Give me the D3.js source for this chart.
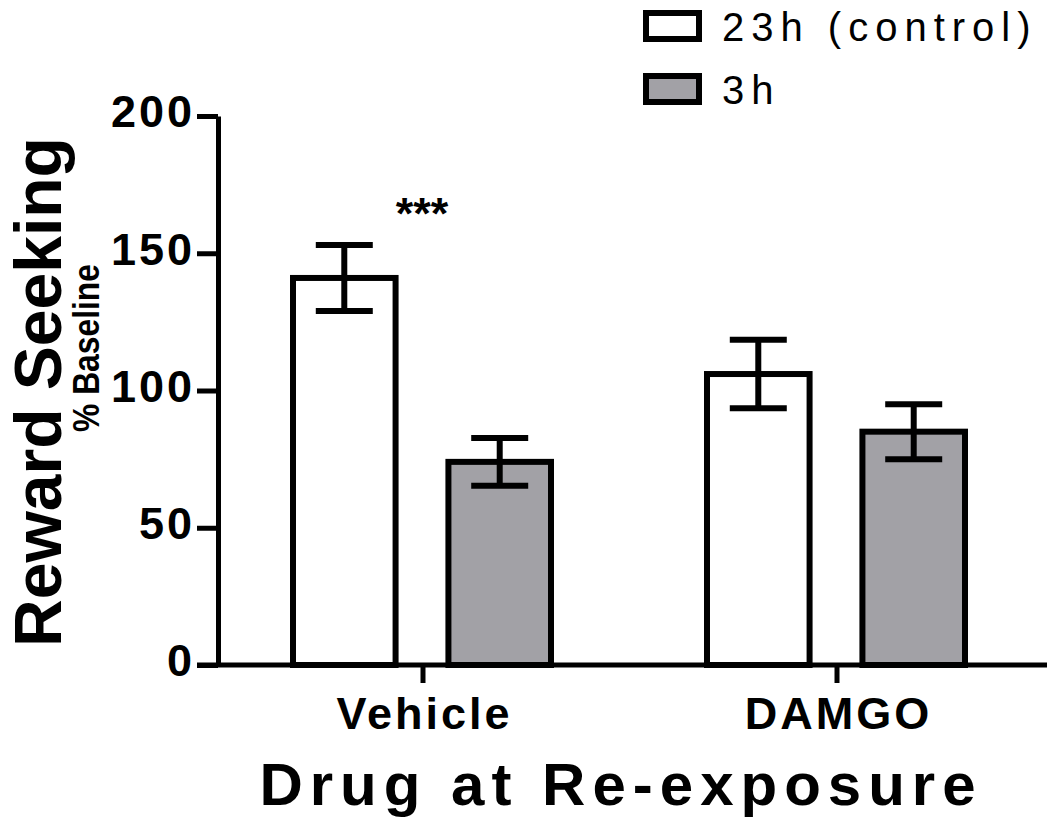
<!DOCTYPE html>
<html>
<head>
<meta charset="utf-8">
<script src="https://cdn.jsdelivr.net/npm/d3@7"></script>
<style>
  body { margin: 0; background: #fff; }
  svg text { font-family: "Liberation Sans", Arial, sans-serif; }
</style>
</head>
<body>
<div id="chart"></div>
<script>
// data
const groups = ["Vehicle", "DAMGO"];
const series = ["23h (control)", "3h"];
const means = [[141, 74], [106, 85]];
const errors = [[12, 8.7], [12.5, 10]];
const fills = ["#ffffff", "#a2a1a6"];
const yTicks = [0, 50, 100, 150, 200];

const svg = d3.select("#chart").append("svg")
    .attr("width", 1050)
    .attr("height", 827);

const y = d3.scaleLinear().domain([0, 200]).range([665, 116]);
const x0 = d3.scaleBand().domain(groups).range([216, 1044]).paddingInner(0);
const x1 = d3.scaleBand().domain(series).range([77, 335]).paddingInner(0.34).paddingOuter(0);

const rows = [];
groups.forEach((g, gi) => series.forEach((s, si) => {
    rows.push({ group: g, series: s, mean: means[gi][si], err: errors[gi][si], fill: fills[si] });
}));

// bars
svg.selectAll("rect.bar")
    .data(rows)
    .enter()
    .append("rect")
    .attr("class", "bar")
    .attr("x", d => x0(d.group) + x1(d.series))
    .attr("y", d => y(d.mean))
    .attr("width", x1.bandwidth())
    .attr("height", d => y(0) - y(d.mean))
    .attr("fill", d => d.fill)
    .attr("stroke", "#000")
    .attr("stroke-width", 6);

// error bars
const capW = 57;
const eb = svg.selectAll("g.err")
    .data(rows)
    .enter()
    .append("g")
    .attr("class", "err")
    .attr("transform", d => `translate(${x0(d.group) + x1(d.series) + x1.bandwidth() / 2},0)`);
eb.append("line")
    .attr("x1", 0).attr("x2", 0)
    .attr("y1", d => y(d.mean + d.err))
    .attr("y2", d => y(d.mean - d.err))
    .attr("stroke", "#000").attr("stroke-width", 6);
eb.append("line")
    .attr("x1", -capW / 2).attr("x2", capW / 2)
    .attr("y1", d => y(d.mean + d.err)).attr("y2", d => y(d.mean + d.err))
    .attr("stroke", "#000").attr("stroke-width", 6);
eb.append("line")
    .attr("x1", -capW / 2).attr("x2", capW / 2)
    .attr("y1", d => y(d.mean - d.err)).attr("y2", d => y(d.mean - d.err))
    .attr("stroke", "#000").attr("stroke-width", 6);

// y axis
const yAxis = svg.append("g")
    .attr("transform", "translate(218,0)")
    .call(d3.axisLeft(y).tickValues(yTicks).tickSize(21).tickPadding(2).tickSizeOuter(0));
yAxis.select(".domain").attr("stroke-width", 5);
yAxis.selectAll(".tick line").attr("stroke-width", 5);
yAxis.selectAll(".tick text")
    .attr("font-size", 45)
    .attr("font-weight", "bold")
    .attr("letter-spacing", 3)
    .attr("fill", "#000")
    .attr("dy", "0.24em")
    .style("font-family", "Liberation Sans, Arial, sans-serif");

// x axis
const xAxis = svg.append("g")
    .attr("transform", `translate(0,${y(0)})`)
    .call(d3.axisBottom(x0).tickSize(18).tickPadding(14).tickSizeOuter(0));
xAxis.select(".domain").attr("d", `M197,0H1047`).attr("stroke-width", 5);
xAxis.selectAll(".tick line").attr("stroke-width", 5);
xAxis.selectAll(".tick text")
    .attr("font-size", 45)
    .attr("font-weight", "bold")
    .attr("letter-spacing", 3)
    .attr("dx", 1.5)
    .attr("fill", "#000")
    .style("font-family", "Liberation Sans, Arial, sans-serif");

// axis titles
svg.append("text")
    .attr("x", 621).attr("y", 805)
    .attr("text-anchor", "middle")
    .attr("font-size", 60)
    .attr("font-weight", "bold")
    .attr("letter-spacing", 7)
    .text("Drug at Re-exposure");

svg.append("text")
    .attr("transform", "translate(61,392) rotate(-90)")
    .attr("text-anchor", "middle")
    .attr("font-size", 66)
    .attr("font-weight", "bold")
    .text("Reward Seeking");

svg.append("text")
    .attr("transform", "translate(99,348) rotate(-90) scale(0.86,1)")
    .attr("text-anchor", "middle")
    .attr("font-size", 37)
    .attr("font-weight", "bold")
    .text("% Baseline");

// significance
svg.append("text")
    .attr("x", x0("Vehicle") + (x1(series[0]) + x1(series[1]) + x1.bandwidth()) / 2)
    .attr("y", 229)
    .attr("text-anchor", "middle")
    .attr("font-size", 45)
    .attr("font-weight", "bold")
    .text("***");

// legend
const legend = svg.append("g")
    .selectAll("g")
    .data(series)
    .enter()
    .append("g")
    .attr("transform", (d, i) => `translate(646,${13 + i * 63})`);
legend.append("rect")
    .attr("width", 53).attr("height", 26)
    .attr("fill", (d, i) => fills[i])
    .attr("stroke", "#000")
    .attr("stroke-width", 6);
legend.append("text")
    .attr("x", 76).attr("y", 28)
    .attr("font-size", 40)
    .attr("letter-spacing", 7)
    .text(d => d);
</script>
</body>
</html>
